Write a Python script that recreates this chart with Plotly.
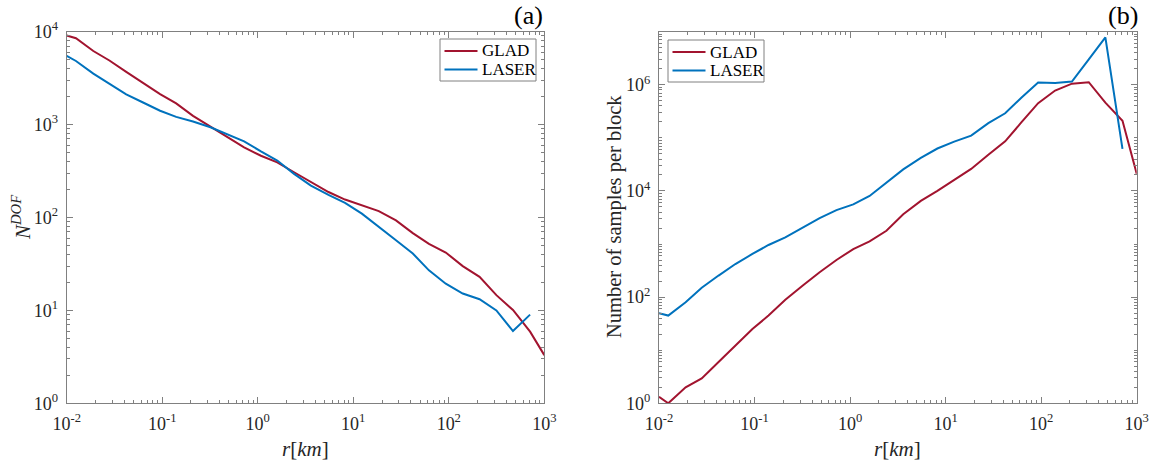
import plotly.graph_objects as go

# ---------------- data ----------------
series_names = ["GLAD", "LASER"]

r_km = [0.01, 0.0125, 0.019, 0.028, 0.042, 0.063, 0.095, 0.14, 0.21, 0.32,
        0.48, 0.72, 1.08, 1.6, 2.4, 3.6, 5.5, 8.2, 12.3, 18.5,
        28, 42, 62, 93, 140, 210, 315, 470, 710, 1000]

glad_ndof = [9100, 8500, 6200, 4900, 3700, 2830, 2130, 1690, 1240, 950,
             730, 570, 462, 393, 307, 240, 188, 156, 134, 117,
             93, 68, 52, 42, 30, 23, 14.6, 10.1, 5.9, 3.3]
laser_ndof = [5480, 4840, 3540, 2770, 2120, 1730, 1410, 1210, 1080, 935,
              790, 660, 515, 410, 295, 220, 175, 144, 110, 80,
              57, 41, 27, 19.4, 15.2, 13.2, 10, 6.0, 9.0]

glad_samples = [1.33, 1.0, 2.0, 2.95, 6.0, 12.4, 25, 45, 89, 165,
                295, 500, 805, 1120, 1780, 3650, 6500, 10000, 16000, 26000,
                48000, 86000, 1.95e5, 4.5e5, 7.8e5, 1.05e6, 1.12e6, 4.6e5, 2.1e5, 2.1e4]
laser_samples = [50, 45, 80, 150, 255, 420, 650, 960, 1330, 2050,
                 3080, 4350, 5600, 8050, 14300, 25500, 42000, 63000, 85000, 1.1e5,
                 1.9e5, 2.9e5, 5.7e5, 1.1e6, 1.08e6, 1.15e6, 3.0e6, 7.8e6, 6.2e4]

x_tickvals = [0.01, 0.1, 1, 10, 100, 1000]
x_ticktext = ["10<sup>-2</sup>", "10<sup>-1</sup>", "10<sup>0</sup>",
              "10<sup>1</sup>", "10<sup>2</sup>", "10<sup>3</sup>"]
ya_tickvals = [1, 10, 100, 1000, 10000]
ya_ticktext = ["10<sup>0</sup>", "10<sup>1</sup>", "10<sup>2</sup>",
               "10<sup>3</sup>", "10<sup>4</sup>"]
yb_tickvals = [1, 100, 1e4, 1e6]
yb_ticktext = ["10<sup>0</sup>", "10<sup>2</sup>", "10<sup>4</sup>", "10<sup>6</sup>"]

# ---------------- style ----------------
W, H = 1155, 463
FONT = "Liberation Serif"
RED = "#A2142F"
BLUE = "#0072BD"
COLORS = [RED, BLUE]
AXC = "#808080"
TXT = "#262626"


def minor_vals(lo, hi):
    vals = []
    for k in range(lo, hi):
        for m in range(2, 10):
            vals.append(m * 10.0 ** k)
    return vals


def px_x(p):
    return p / W


def px_y(p):
    return 1 - p / H


fig = go.Figure()

fig.add_trace(go.Scatter(x=r_km, y=glad_ndof, mode="lines", name=series_names[0],
                         line=dict(color=RED, width=2), xaxis="x", yaxis="y",
                         showlegend=False))
fig.add_trace(go.Scatter(x=r_km[:len(laser_ndof)], y=laser_ndof, mode="lines",
                         name=series_names[1], line=dict(color=BLUE, width=2),
                         xaxis="x", yaxis="y", showlegend=False))
fig.add_trace(go.Scatter(x=r_km, y=glad_samples, mode="lines", name=series_names[0],
                         line=dict(color=RED, width=2), xaxis="x2", yaxis="y2",
                         showlegend=False))
fig.add_trace(go.Scatter(x=r_km[:len(laser_samples)], y=laser_samples, mode="lines",
                         name=series_names[1], line=dict(color=BLUE, width=2),
                         xaxis="x2", yaxis="y2", showlegend=False))

common_axis = dict(
    type="log", showgrid=False, zeroline=False, showline=True, linecolor=AXC,
    linewidth=1, mirror="ticks", ticks="inside", ticklen=6, tickcolor=AXC,
    tickfont=dict(family=FONT, size=18, color=TXT), automargin=False,
)

xa_dom = [px_x(66.7), px_x(544.3)]
xb_dom = [px_x(659), px_x(1136.7)]
y_dom = [px_y(403.3), px_y(31.7)]


def minor(vals):
    return dict(tickmode="array", tickvals=vals, ticks="inside",
                ticklen=3, tickcolor=AXC, showgrid=False)


fig.update_layout(
    width=W, height=H,
    margin=dict(l=0, r=0, t=0, b=0),
    paper_bgcolor="white", plot_bgcolor="white",
    font=dict(family=FONT, color=TXT),
    showlegend=False,
    xaxis=dict(common_axis, domain=xa_dom, anchor="y", range=[-2, 3],
               tickmode="array", tickvals=x_tickvals, ticktext=x_ticktext,
               ticklabelstandoff=4, minor=minor(minor_vals(-2, 3))),
    yaxis=dict(common_axis, domain=y_dom, anchor="x", range=[0, 4],
               tickmode="array", tickvals=ya_tickvals, ticktext=ya_ticktext,
               ticklabelstandoff=4, minor=minor(minor_vals(0, 4))),
    xaxis2=dict(common_axis, domain=xb_dom, anchor="y2", range=[-2, 3],
                tickmode="array", tickvals=x_tickvals, ticktext=x_ticktext,
                ticklabelstandoff=4, minor=minor(minor_vals(-2, 3))),
    yaxis2=dict(common_axis, domain=y_dom, anchor="x2", range=[0, 7],
                tickmode="array", tickvals=yb_tickvals, ticktext=yb_ticktext,
                ticklabelstandoff=4,
                minor=minor(minor_vals(0, 7) + [10, 1e3, 1e5, 1e7])),
)

annotations = [
    dict(text="<i>r</i>[<i>km</i>]", x=(xa_dom[0] + xa_dom[1]) / 2, y=px_y(449),
         xref="paper", yref="paper", showarrow=False, xanchor="center", yanchor="middle",
         font=dict(family=FONT, size=21, color=TXT)),
    dict(text="<i>r</i>[<i>km</i>]", x=(xb_dom[0] + xb_dom[1]) / 2, y=px_y(449),
         xref="paper", yref="paper", showarrow=False, xanchor="center", yanchor="middle",
         font=dict(family=FONT, size=21, color=TXT)),
    dict(text="<i>N</i><sup><i>DOF</i></sup>", x=px_x(21), y=px_y(217),
         xref="paper", yref="paper", showarrow=False, xanchor="center", yanchor="middle",
         textangle=-90, font=dict(family=FONT, size=21, color=TXT)),
    dict(text="Number of samples per block", x=px_x(614), y=px_y(217),
         xref="paper", yref="paper", showarrow=False, xanchor="center", yanchor="middle",
         textangle=-90, font=dict(family=FONT, size=20.5, color=TXT)),
    dict(text="(a)", x=px_x(528), y=px_y(16),
         xref="paper", yref="paper", showarrow=False, xanchor="center", yanchor="middle",
         font=dict(family=FONT, size=26, color="black")),
    dict(text="(b)", x=px_x(1123), y=px_y(16),
         xref="paper", yref="paper", showarrow=False, xanchor="center", yanchor="middle",
         font=dict(family=FONT, size=26, color="black")),
]

# legend boxes (one per panel), drawn in page pixels
shapes = []
for (bx, by) in [(440, 39), (668, 40)]:
    shapes.append(dict(type="rect", xref="paper", yref="paper",
                       x0=px_x(bx), x1=px_x(bx + 96), y0=px_y(by + 42), y1=px_y(by),
                       line=dict(color=AXC, width=1), fillcolor="white", layer="above"))
    for i, (name, col) in enumerate(zip(series_names, COLORS)):
        yy = by + 12 + i * 18.5
        shapes.append(dict(type="line", xref="paper", yref="paper",
                           x0=px_x(bx + 4.5), x1=px_x(bx + 37.5), y0=px_y(yy), y1=px_y(yy),
                           line=dict(color=col, width=2), layer="above"))
        annotations.append(dict(text=name, x=px_x(bx + 39.5), y=px_y(yy),
                                xref="paper", yref="paper", showarrow=False,
                                xanchor="left", yanchor="middle",
                                font=dict(family=FONT, size=17, color="black")))

fig.update_layout(annotations=annotations, shapes=shapes)

fig.write_html("out.html", config={"displayModeBar": False},
               post_script="document.body.style.margin='0px';")
